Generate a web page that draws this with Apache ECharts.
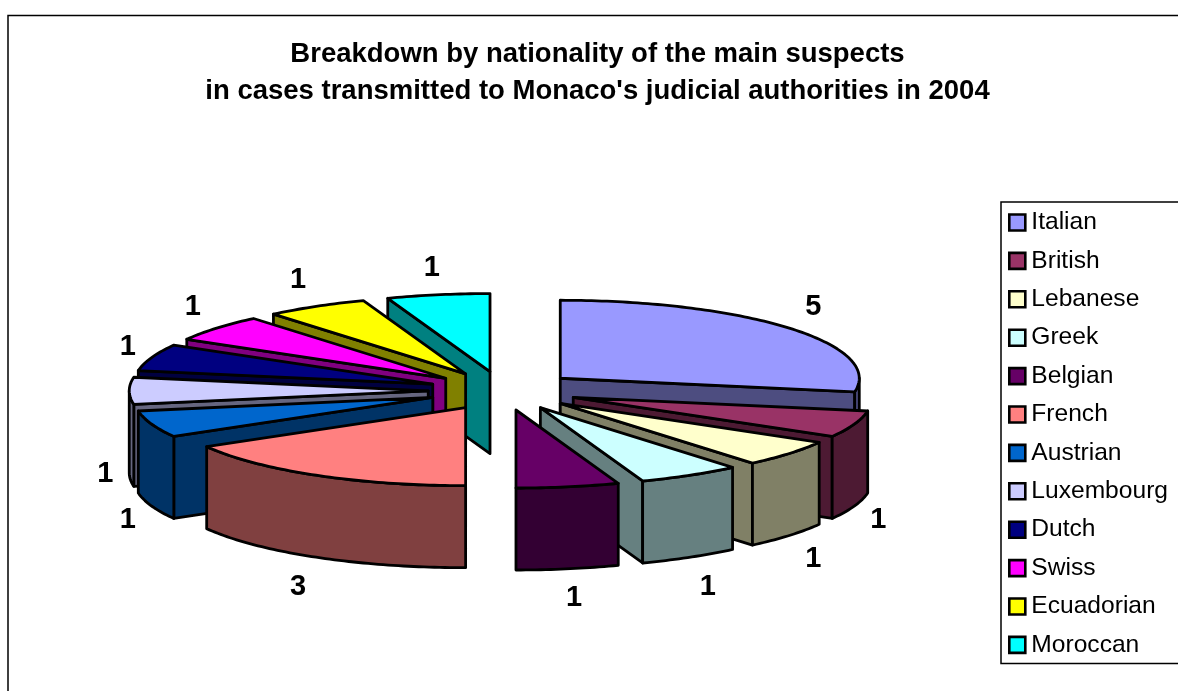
<!DOCTYPE html>
<html>
<head>
<meta charset="utf-8">
<title>Main suspects by nationality, Monaco 2004</title>
<script src="https://cdn.jsdelivr.net/npm/echarts@6/dist/echarts.min.js"></script>
<style>
  html, body { margin: 0; padding: 0; background: #fff; overflow: hidden; }
  #chart { width: 1178px; height: 691px; }
</style>
</head>
<body>
<div id="chart"></div>
<script>
const titleLines = [
  'Breakdown by nationality of the main suspects',
  "in cases transmitted to Monaco's judicial authorities in 2004"
];
const nationalities = ['Italian', 'British', 'Lebanese', 'Greek', 'Belgian', 'French', 'Austrian', 'Luxembourg', 'Dutch', 'Swiss', 'Ecuadorian', 'Moroccan'];
const suspects = [5, 1, 1, 1, 1, 3, 1, 1, 1, 1, 1, 1];
const topColors = ['#9999FF', '#993366', '#FFFFCC', '#CCFFFF', '#660066', '#FF8080', '#0066CC', '#CCCCFF', '#000080', '#FF00FF', '#FFFF00', '#00FFFF'];
const wallColors = ['#4D4D80', '#4D1A33', '#808066', '#668080', '#330033', '#804040', '#003366', '#666680', '#000040', '#800080', '#808000', '#008080'];

const FONT = '"Liberation Sans", Arial, sans-serif';

// Oblique projection of the exploded pie: radii on screen, extrusion height, explosion share.
const pie = { cx: 503, cy: 390.8, rx: 299, ry: 78, depth: 82, explode: 0.25 };
const total = suspects.reduce((a, b) => a + b, 0);

// Slice angles run clockwise from north, in radians.
let running = 0;
const slices = suspects.map((v) => {
  const a0 = running / total * Math.PI * 2;
  running += v;
  const a1 = running / total * Math.PI * 2;
  return { a0, a1, mid: (a0 + a1) / 2 };
});

function ringPoint(ox, oy, a, drop) {
  return [ox + pie.rx * Math.sin(a), oy - pie.ry * Math.cos(a) + drop];
}

function arcPoints(ox, oy, from, to, drop) {
  const steps = Math.max(2, Math.ceil(Math.abs(to - from) / (Math.PI / 180)));
  const pts = [];
  for (let i = 0; i <= steps; i++) {
    pts.push(ringPoint(ox, oy, from + (to - from) * i / steps, drop));
  }
  return pts;
}

const EPS = 1e-6;

function renderSlice(index) {
  return function (params, api) {
    const value = api.value(0);
    const s = slices[index];
    const ox = pie.cx + pie.explode * pie.rx * Math.sin(s.mid);
    const oy = pie.cy - pie.explode * pie.ry * Math.cos(s.mid);
    const d = pie.depth;
    const children = [];
    const face = (points, fill) => children.push({
      type: 'polygon',
      shape: { points },
      style: { fill, stroke: '#000', lineWidth: 2.8, lineJoin: 'round' }
    });

    // Radial cut faces that turn toward the viewer.
    const cut = (a) => {
      const p = ringPoint(ox, oy, a, 0);
      face([[ox, oy], p, [p[0], p[1] + d], [ox, oy + d]], wallColors[index]);
    };
    if (Math.sin(s.a0) < -EPS) cut(s.a0);
    if (Math.sin(s.a1) > EPS) cut(s.a1);

    // Outer rim, front half only.
    const from = Math.max(s.a0, Math.PI / 2);
    const to = Math.min(s.a1, Math.PI * 1.5);
    if (to > from) {
      face(arcPoints(ox, oy, from, to, 0).concat(arcPoints(ox, oy, to, from, d)), wallColors[index]);
    }

    // Top surface.
    face([[ox, oy]].concat(arcPoints(ox, oy, s.a0, s.a1, 0)), topColors[index]);

    // Value label just outside the rim.
    const rim = ringPoint(ox, oy, s.mid, Math.cos(s.mid) < EPS ? d : 0);
    const sin = Math.sin(s.mid);
    const cos = Math.cos(s.mid);
    children.push({
      type: 'text',
      style: {
        text: String(value),
        x: rim[0] + Math.sign(sin) * Math.min(24, 36 * Math.abs(sin)),
        y: rim[1] + 1.5 - Math.sign(cos) * Math.min(28, 35 * Math.abs(cos)),
        font: 'bold 29px ' + FONT,
        fill: '#000',
        align: 'center',
        verticalAlign: 'middle'
      }
    });
    return { type: 'group', children };
  };
}

// Paint from the far side of the pie to the near side.
const paintOrder = slices
  .map((s, i) => ({ i, far: Math.cos(s.mid) }))
  .sort((p, q) => q.far - p.far)
  .map((p) => p.i);

const series = nationalities.map((name, i) => ({
  type: 'custom',
  name,
  coordinateSystem: 'none',
  z: 2 + paintOrder.indexOf(i),
  silent: true,
  itemStyle: { color: topColors[i] },
  renderItem: renderSlice(i),
  data: [[suspects[i]]]
}));

const chart = echarts.init(document.getElementById('chart'), null, { renderer: 'canvas' });
chart.setOption({
  animation: false,
  backgroundColor: '#fff',
  title: {
    text: titleLines.join('\n'),
    left: 592.5,
    top: 31,
    textAlign: 'center',
    textStyle: { fontFamily: FONT, fontWeight: 'bold', fontSize: 27.5, lineHeight: 37, color: '#000' }
  },
  legend: {
    data: nationalities,
    orient: 'vertical',
    left: 1001,
    top: 202,
    padding: [8, 60, 6, 7],
    itemWidth: 16,
    itemHeight: 16,
    itemGap: 13.4,
    icon: 'rect',
    selectedMode: false,
    borderColor: '#000',
    borderWidth: 1.5,
    itemStyle: { borderColor: '#000', borderWidth: 2.6 },
    textStyle: { fontFamily: FONT, fontSize: 24.6, color: '#000', lineHeight: 24.4, padding: [0, 0, 0, 1] }
  },
  graphic: [{
    type: 'rect',
    z: -1,
    silent: true,
    shape: { x: 8, y: 15.5, width: 1300, height: 800 },
    style: { fill: '#fff', stroke: '#000', lineWidth: 1.5 }
  }],
  series
});
</script>
</body>
</html>
